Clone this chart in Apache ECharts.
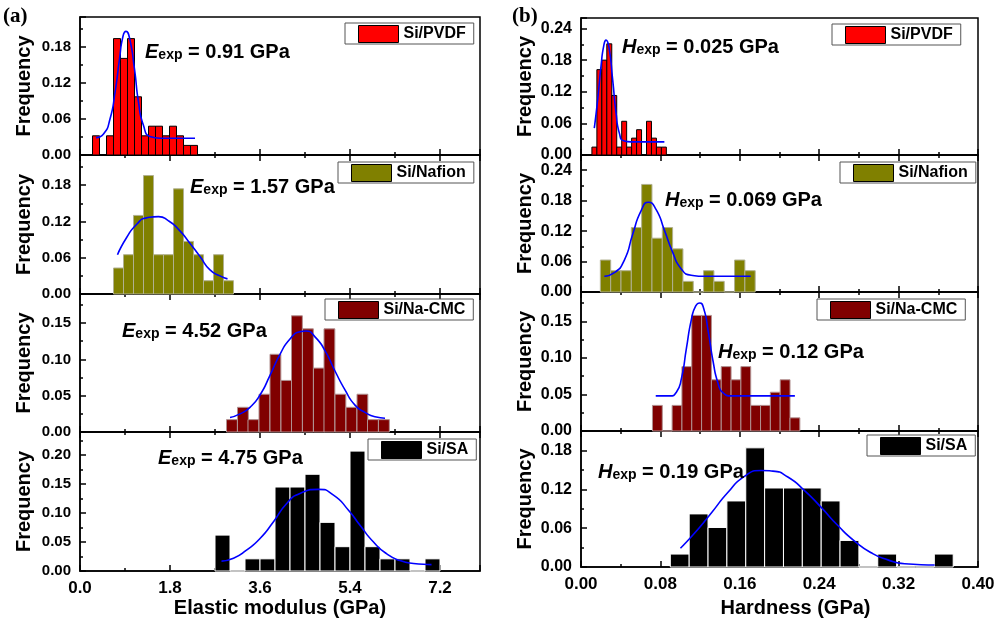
<!DOCTYPE html>
<html>
<head>
<meta charset="utf-8">
<script src="https://cdn.jsdelivr.net/npm/echarts@6/dist/echarts.min.js"></script>
<style>
  html, body { margin: 0; padding: 0; background: #fff; }
  #chart { width: 998px; height: 622px; }
</style>
</head>
<body>
<div id="chart"></div>
<script>
// samples, top to bottom
var samples = ['Si/PVDF', 'Si/Nafion', 'Si/Na-CMC', 'Si/SA'];

// (a) elastic modulus histograms: bin left edge (GPa) and frequency
var eBinWidth = [0.14, 0.2, 0.217, 0.3];
var eBinsPVDF = [0.25, 0.39, 0.53, 0.67, 0.81, 0.95, 1.09, 1.23, 1.37, 1.51, 1.65, 1.79, 1.93, 2.07, 2.21];
var eFreqPVDF = [0.032, 0, 0.032, 0.194, 0.161, 0.194, 0.097, 0.032, 0.048, 0.048, 0.032, 0.048, 0.032, 0.016, 0.016];
var eBinsNafion = [0.67, 0.87, 1.07, 1.27, 1.47, 1.67, 1.87, 2.07, 2.27, 2.47, 2.67, 2.87];
var eFreqNafion = [0.043, 0.065, 0.13, 0.196, 0.065, 0.065, 0.174, 0.087, 0.065, 0.022, 0.065, 0.022];
var eBinsCMC = [2.93, 3.15, 3.36, 3.58, 3.80, 4.02, 4.23, 4.45, 4.67, 4.88, 5.10, 5.32, 5.54, 5.75, 5.97];
var eFreqCMC = [0.017, 0.034, 0.017, 0.052, 0.107, 0.071, 0.16, 0.142, 0.088, 0.142, 0.052, 0.034, 0.052, 0.017, 0.017];
var eBinsSA = [2.7, 3.0, 3.3, 3.6, 3.9, 4.2, 4.5, 4.8, 5.1, 5.4, 5.7, 6.0, 6.3, 6.6, 6.9];
var eFreqSA = [0.062, 0, 0.021, 0.021, 0.145, 0.145, 0.167, 0.084, 0.042, 0.207, 0.042, 0.021, 0.021, 0, 0.021];

// (a) gaussian fit curves
var eFitPVDF = [[0.32, 0.029], [0.47, 0.035], [0.60, 0.060], [0.70, 0.104], [0.79, 0.160], [0.86, 0.198], [0.92, 0.206],
  [0.99, 0.195], [1.09, 0.143], [1.17, 0.088], [1.27, 0.049], [1.40, 0.031], [1.60, 0.028], [2.30, 0.028]];
var eFitNafion = [[0.75, 0.065], [0.93, 0.093], [1.13, 0.115], [1.33, 0.126], [1.57, 0.128], [1.77, 0.121], [1.97, 0.107],
  [2.17, 0.087], [2.40, 0.062], [2.60, 0.040], [2.80, 0.030], [2.95, 0.025]];
var eFitCMC = [[3.00, 0.020], [3.20, 0.025], [3.40, 0.034], [3.60, 0.051], [3.80, 0.078], [4.00, 0.107], [4.20, 0.128],
  [4.40, 0.138], [4.52, 0.139], [4.70, 0.131], [4.90, 0.112], [5.10, 0.084], [5.30, 0.058], [5.50, 0.037], [5.70, 0.027],
  [5.90, 0.021], [6.10, 0.019]];
var eFitSA = [[2.83, 0.017], [3.07, 0.022], [3.33, 0.036], [3.60, 0.056], [3.87, 0.085], [4.13, 0.116], [4.40, 0.134],
  [4.77, 0.141], [5.07, 0.131], [5.37, 0.105], [5.60, 0.079], [5.87, 0.050], [6.13, 0.030], [6.40, 0.018], [6.67, 0.013],
  [7.03, 0.011]];
var eExp = ['0.91', '1.57', '4.52', '4.75'];

// (b) hardness histograms
var hBinWidth = [0.005, 0.0104, 0.0099, 0.019];
var hBinsPVDF = [0.011, 0.016, 0.021, 0.026, 0.031, 0.036, 0.041, 0.046, 0.051, 0.056, 0.061, 0.066, 0.071, 0.076, 0.081];
var hFreqPVDF = [0.015, 0.162, 0.18, 0.211, 0.113, 0.015, 0.064, 0.015, 0.032, 0.048, 0, 0.064, 0.032, 0.015, 0.015];
var hBinsNafion = [0.0195, 0.0299, 0.0403, 0.0507, 0.0611, 0.0715, 0.0819, 0.0923, 0.1027, 0.1131, 0.1235, 0.1339, 0.1443, 0.1547, 0.1651];
var hFreqNafion = [0.063, 0.042, 0.042, 0.127, 0.212, 0.106, 0.127, 0.085, 0.021, 0, 0.042, 0.021, 0, 0.063, 0.042];
var hBinsCMC = [0.072, 0.0819, 0.0918, 0.1017, 0.1116, 0.1215, 0.1314, 0.1413, 0.1512, 0.1611, 0.171, 0.1809, 0.1908, 0.2007, 0.2106];
var hFreqCMC = [0.035, 0, 0.035, 0.088, 0.158, 0.158, 0.070, 0.088, 0.070, 0.088, 0.035, 0.035, 0.053, 0.070, 0.018];
var hBinsSA = [0.09, 0.109, 0.128, 0.147, 0.166, 0.185, 0.204, 0.223, 0.242, 0.261, 0.28, 0.299, 0.318, 0.337, 0.356];
var hFreqSA = [0.02, 0.082, 0.061, 0.102, 0.184, 0.122, 0.122, 0.122, 0.102, 0.041, 0, 0.02, 0, 0, 0.02];

var hFitPVDF = [[0.0134, 0.051], [0.0168, 0.105], [0.0202, 0.169], [0.0229, 0.207], [0.0252, 0.218], [0.0280, 0.206],
  [0.0319, 0.143], [0.0353, 0.080], [0.0387, 0.041], [0.0430, 0.027], [0.0504, 0.025], [0.0840, 0.025]];
var hFitNafion = [[0.0235, 0.031], [0.0336, 0.038], [0.0437, 0.063], [0.0521, 0.114], [0.0605, 0.160], [0.0679, 0.177],
  [0.0756, 0.163], [0.0840, 0.122], [0.0924, 0.078], [0.1008, 0.046], [0.1110, 0.033], [0.1240, 0.031], [0.1710, 0.031]];
var hFitCMC = [[0.0753, 0.048], [0.0894, 0.048], [0.0961, 0.053], [0.1012, 0.072], [0.1062, 0.113], [0.1113, 0.153],
  [0.1156, 0.171], [0.1197, 0.175], [0.1237, 0.167], [0.1281, 0.137], [0.1331, 0.095], [0.1381, 0.065], [0.1432, 0.052],
  [0.1516, 0.048], [0.2155, 0.048]];
var hFitSA = [[0.1002, 0.029], [0.1143, 0.052], [0.1311, 0.083], [0.1479, 0.115], [0.1647, 0.140], [0.1815, 0.149],
  [0.1933, 0.148], [0.2084, 0.139], [0.2252, 0.118], [0.2420, 0.092], [0.2588, 0.064], [0.2756, 0.040], [0.2924, 0.022],
  [0.3092, 0.011], [0.3261, 0.005], [0.3563, 0.003]];
var hExp = ['0.025', '0.069', '0.12', '0.19'];

var columns = [
  { sym: 'E', name: 'Elastic modulus (GPa)', xMax: 8.0, xStep: 1.8, xDigits: 1, exp: eExp, widths: eBinWidth,
    bins: [eBinsPVDF, eBinsNafion, eBinsCMC, eBinsSA], freq: [eFreqPVDF, eFreqNafion, eFreqCMC, eFreqSA],
    fits: [eFitPVDF, eFitNafion, eFitCMC, eFitSA] },
  { sym: 'H', name: 'Hardness (GPa)', xMax: 0.40, xStep: 0.08, xDigits: 2, exp: hExp, widths: hBinWidth,
    bins: [hBinsPVDF, hBinsNafion, hBinsCMC, hBinsSA], freq: [hFreqPVDF, hFreqNafion, hFreqCMC, hFreqSA],
    fits: [hFitPVDF, hFitNafion, hFitCMC, hFitSA] }
];

// looks
var barColors = ['#ff0000', '#808000', '#800000', '#000000'];
var barEdges = ['#000000', '#b0b090', '#b09090', '#ffffff'];
var FONT = '"Liberation Sans", Arial, sans-serif';

// layout (px)
var colLeft = [80, 581];
var colWidth = [400, 397];
var rowTop = [[17, 155, 294, 432], [18, 155, 292, 431]];
var rowBottom = [[155, 294, 432, 571], [155, 292, 431, 567]];
var yMax = [[0.23, 0.23, 0.19, 0.24], [0.26, 0.27, 0.19, 0.21]];
var yStep = [[0.06, 0.06, 0.05, 0.05], [0.06, 0.06, 0.05, 0.06]];
var yLabelSize = [15, 16];
var legendPos = [[[345, 23], [338, 162], [325, 299], [368, 439]], [[832, 24], [840, 162], [817, 299], [867, 435]]];
var notePos = [[[145, 52], [190, 187], [122, 331], [158, 458]], [[622, 47], [665, 200], [718, 352], [598, 472]]];
var panelTag = [['(a)', 3, 17], ['(b)', 512, 17]];

function histRender(width, fill, edge) {
  return function (params, api) {
    var x0 = api.value(0);
    var top = api.coord([x0, api.value(1)]);
    var base = api.coord([x0 + width, 0]);
    return {
      type: 'rect',
      shape: { x: top[0], y: top[1], width: base[0] - top[0], height: base[1] - top[1] },
      style: { fill: fill, stroke: edge, lineWidth: 1 }
    };
  };
}

var grids = [], xAxes = [], yAxes = [], series = [], legends = [], graphics = [];
var tickStyle = { color: '#000', width: 1.5 };

columns.forEach(function (col, c) {
  for (var r = 0; r < 4; r++) {
    var g = grids.length;
    grids.push({
      left: colLeft[c], top: rowTop[c][r], width: colWidth[c], height: rowBottom[c][r] - rowTop[c][r],
      show: true, borderColor: '#000', borderWidth: 1.5, backgroundColor: 'transparent'
    });
    var xi = xAxes.length;
    var last = r === 3;
    xAxes.push({
      type: 'value', gridIndex: g, position: 'bottom', min: 0, max: col.xMax, interval: col.xStep,
      name: last ? col.name : '', nameLocation: 'middle', nameGap: c === 0 ? 27 : 31,
      nameTextStyle: { fontFamily: FONT, fontWeight: 'bold', fontSize: 20, color: '#000', padding: c === 1 ? [0, 0, 0, 32] : 0 },
      axisLine: { lineStyle: tickStyle },
      axisTick: { inside: true, length: 6, lineStyle: tickStyle },
      minorTick: { show: true, splitNumber: 2, length: 3, lineStyle: tickStyle },
      splitLine: { show: false },
      axisLabel: {
        show: last, margin: 9, showMaxLabel: c === 1, fontFamily: FONT, fontWeight: 'bold', fontSize: 17, color: '#000',
        formatter: (function (d) { return function (v) { return v.toFixed(d); }; })(col.xDigits)
      }
    });
    if (r > 0) {
      xAxes.push({
        type: 'value', gridIndex: g, position: 'top', min: 0, max: col.xMax, interval: col.xStep,
        axisLine: { show: false }, axisLabel: { show: false }, splitLine: { show: false },
        axisTick: { inside: true, length: 6, lineStyle: tickStyle },
        minorTick: { show: true, splitNumber: 2, length: 3, lineStyle: tickStyle }
      });
    }
    yAxes.push({
      type: 'value', gridIndex: g, min: 0, max: yMax[c][r], interval: yStep[c][r],
      name: 'Frequency', nameLocation: 'middle', nameGap: 46,
      nameTextStyle: { fontFamily: FONT, fontWeight: 'bold', fontSize: 20, color: '#000' },
      axisLine: { lineStyle: tickStyle },
      axisTick: { inside: true, length: 6, lineStyle: tickStyle },
      minorTick: { show: true, splitNumber: 2, length: 3, lineStyle: tickStyle },
      splitLine: { show: false },
      axisLabel: {
        margin: 9, showMaxLabel: false, fontFamily: FONT, fontWeight: 'bold', fontSize: yLabelSize[c], color: '#000',
        formatter: function (v) { return v.toFixed(2); }
      }
    });

    var bins = col.bins[r], freq = col.freq[r];
    series.push({
      type: 'custom', name: samples[r], xAxisIndex: xi, yAxisIndex: g,
      itemStyle: { color: barColors[r] },
      renderItem: histRender(col.widths[r], barColors[r], barEdges[r]),
      encode: { x: 0, y: 1 },
      data: bins.map(function (b, i) { return [b, freq[i]]; }),
      z: 2
    });
    series.push({
      type: 'line', name: col.sym + ' fit ' + r, xAxisIndex: xi, yAxisIndex: g,
      data: col.fits[r], smooth: 0.6, showSymbol: false, silent: true,
      lineStyle: { color: '#0000ff', width: 1.6 }, z: 5
    });

    legends.push({
      data: [samples[r]], left: legendPos[c][r][0], top: legendPos[c][r][1],
      backgroundColor: '#fff', borderColor: '#555', borderWidth: 1, borderRadius: 0,
      padding: [2, 8, 1, 13], itemWidth: 40, itemHeight: 17, icon: 'rect', selectedMode: false,
      itemStyle: { borderColor: '#000', borderWidth: 1 },
      textStyle: { fontFamily: FONT, fontWeight: 'bold', fontSize: 16, color: '#000' }
    });

    graphics.push({
      type: 'text', x: notePos[c][r][0], y: notePos[c][r][1], z: 10,
      style: {
        text: '{i|' + col.sym + '}{s|exp}{b| = ' + col.exp[r] + ' GPa}',
        verticalAlign: 'middle', align: 'left',
        rich: {
          i: { fontFamily: FONT, fontWeight: 'bold', fontStyle: 'italic', fontSize: 20, fill: '#000' },
          s: { fontFamily: FONT, fontWeight: 'bold', fontSize: 14, fill: '#000', padding: [7, 0, 0, 0] },
          b: { fontFamily: FONT, fontWeight: 'bold', fontSize: 20, fill: '#000' }
        }
      }
    });
  }
});

panelTag.forEach(function (t) {
  graphics.push({
    type: 'text', x: t[1], y: t[2],
    style: { text: t[0], verticalAlign: 'middle', font: 'bold 21px "Liberation Serif", "Times New Roman", serif', fill: '#000' }
  });
});

var chart = echarts.init(document.getElementById('chart'));
chart.setOption({
  backgroundColor: '#fff',
  animation: false,
  grid: grids,
  xAxis: xAxes,
  yAxis: yAxes,
  legend: legends,
  series: series,
  graphic: graphics
});
</script>
</body>
</html>
